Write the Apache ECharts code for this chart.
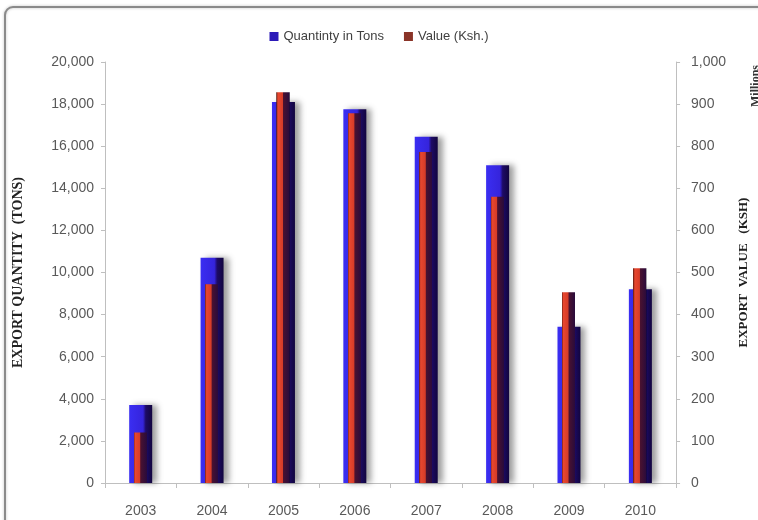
<!DOCTYPE html>
<html>
<head>
<meta charset="utf-8">
<script src="https://cdn.jsdelivr.net/npm/echarts@6/dist/echarts.min.js"></script>
<style>html,body{margin:0;padding:0;background:#fff}#c{width:758px;height:520px}</style>
</head>
<body>
<div id="c"></div>
<script>
var years = ['2003','2004','2005','2006','2007','2008','2009','2010'];
var quantityTons = [3700, 10700, 18100, 17750, 16450, 15100, 7420, 9210];
var valueKshMillions = [120, 472, 928, 878, 786, 680, 453, 510];
var leftTicks = [0, 20000, 2000];
var rightTicks = [0, 1000, 100];

var chart = echarts.init(document.getElementById('c'), null, {renderer:'canvas'});
var labelFont = {color:'#595959', fontSize:14, fontFamily:'Liberation Sans'};
var blueGrad = new echarts.graphic.LinearGradient(0,0,1,0,[
  {offset:0, color:'#3a2ef2'},
  {offset:0.6, color:'#3524dc'},
  {offset:0.72, color:'#1d0b66'},
  {offset:1, color:'#12053e'}
]);
var redGrad = new echarts.graphic.LinearGradient(0,0,1,0,[
  {offset:0, color:'rgba(0,0,0,0)'},
  {offset:0.19, color:'rgba(0,0,0,0)'},
  {offset:0.2, color:'#7a2418'},
  {offset:0.26, color:'#e8472f'},
  {offset:0.46, color:'#d63c28'},
  {offset:0.5, color:'#4a1230'},
  {offset:0.76, color:'#2a0b3c'},
  {offset:0.77, color:'rgba(0,0,0,0)'},
  {offset:1, color:'rgba(0,0,0,0)'}
]);
chart.setOption({
  animation:false,
  backgroundColor:'#fff',
  graphic:[
    {type:'rect', shape:{x:5, y:7, width:800, height:600, r:8}, style:{fill:'none', stroke:'#8a8a8a', lineWidth:2, shadowColor:'rgba(0,0,0,0.25)', shadowBlur:3}, z:-1},
    {type:'text', x:756, y:86, rotation:Math.PI/2, style:{text:'Millions', fill:'#333', font:'bold 12px "Liberation Serif"', align:'center', verticalAlign:'middle'}}
  ],
  legend:{
    top:25, left:'center', itemWidth:9, itemHeight:9, itemGap:20, icon:'rect',
    textStyle:{color:'#404040', fontSize:13, fontFamily:'Liberation Sans'},
    data:[
      {name:'Quantinty in Tons', itemStyle:{color:'#2c1ab8'}},
      {name:'Value (Ksh.)', itemStyle:{color:'#8a3428'}}
    ]
  },
  grid:{left:105, right:75, top:62, bottom:37, containLabel:false},
  xAxis:{
    type:'category', data:years, boundaryGap:true,
    axisLine:{lineStyle:{color:'#bfbfbf'}},
    axisTick:{show:true, length:5, lineStyle:{color:'#bfbfbf'}},
    axisLabel:Object.assign({margin:21}, labelFont)
  },
  yAxis:[
    {type:'value', min:leftTicks[0], max:leftTicks[1], interval:leftTicks[2], position:'left',
     name:'EXPORT QUANTITY  (TONS)', nameLocation:'middle', nameGap:80, nameRotate:90,
     nameTextStyle:{color:'#222', fontSize:14, fontWeight:'bold', fontFamily:'Liberation Serif'},
     axisLine:{show:true, lineStyle:{color:'#bfbfbf'}},
     axisTick:{show:true, length:4, lineStyle:{color:'#bfbfbf'}},
     splitLine:{show:false},
     axisLabel:Object.assign({margin:11, formatter:function(v){return v.toLocaleString('en-US');}}, labelFont)
    },
    {type:'value', min:rightTicks[0], max:rightTicks[1], interval:rightTicks[2], position:'right',
     name:'EXPORT  VALUE   (KSH)', nameLocation:'middle', nameGap:60, nameRotate:90,
     nameTextStyle:{color:'#222', fontSize:13, fontWeight:'bold', fontFamily:'Liberation Serif'},
     axisLine:{show:true, lineStyle:{color:'#bfbfbf'}},
     axisTick:{show:true, length:4, lineStyle:{color:'#bfbfbf'}},
     splitLine:{show:false},
     axisLabel:Object.assign({margin:15, formatter:function(v){return v.toLocaleString('en-US');}}, labelFont)
    }
  ],
  series:[
    {name:'Quantinty in Tons', type:'bar', yAxisIndex:0, data:quantityTons, barWidth:23, barGap:'-100%',
     itemStyle:{color:blueGrad, shadowColor:'rgba(40,40,40,0.45)', shadowBlur:6, shadowOffsetX:5}},
    {name:'Value (Ksh.)', type:'bar', yAxisIndex:1, data:valueKshMillions, barWidth:23, barGap:'-100%',
     itemStyle:{color:redGrad}}
  ]
});
</script>
</body>
</html>
